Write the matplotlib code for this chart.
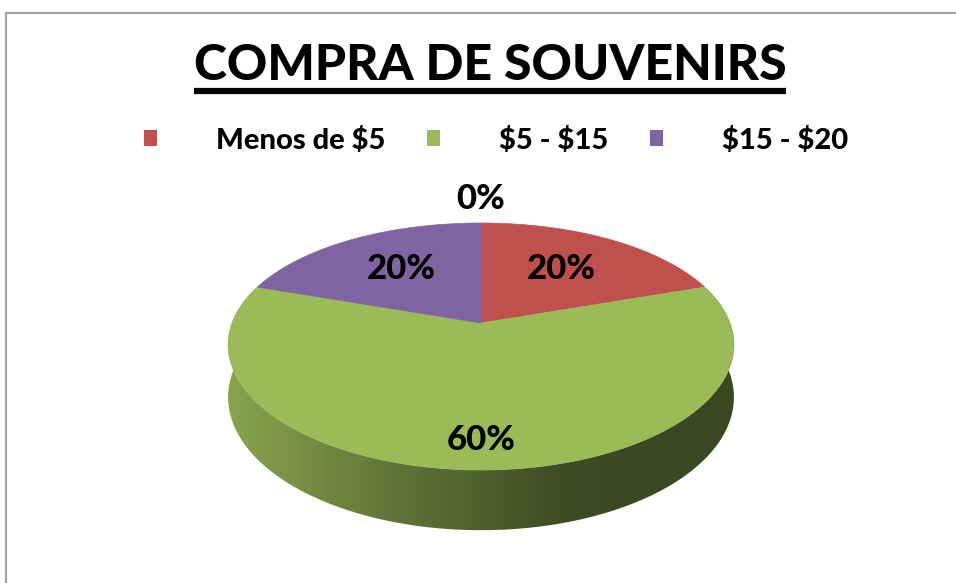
import numpy as np
import matplotlib.pyplot as plt
from matplotlib.patches import Polygon, Patch
from matplotlib.colors import to_rgb, LinearSegmentedColormap

# Data
title = "COMPRA DE SOUVENIRS"
categories = ["Menos de \\$5", "\\$5 - \\$15", "\\$15 - \\$20", ""]
values = [20, 60, 20, 0]
labels = ["20%", "60%", "20%", "0%"]
colors = ["#c0504d", "#9bbb59", "#8064a2", "#4bacc6"]

FONT = ["Lato", "DejaVu Sans"]
plt.rcParams['font.family'] = FONT

# 3D pie geometry (pixel units)
CX, CY = 481, 323
R = 249
PERSP = 0.18
A_Y, B_Y = 123.5, 23.5
DEPTH = 51


def project(theta, r=1.0, h=0.0):
    v = -np.sin(theta) * r
    x = CX + R * r * np.cos(theta) * (1 + PERSP * v)
    y = CY + A_Y * v + B_Y * v ** 2 + h * DEPTH * (1 + PERSP * v)
    return x, y


fig = plt.figure(figsize=(9.56, 5.83), dpi=100)
ax = fig.add_axes([0, 0, 1, 1])
ax.set_xlim(0, 956)
ax.set_ylim(583, 0)
ax.axis("off")

# chart border
ax.plot([6, 6, 960], [590, 13, 13], color="#a6a6a6", lw=1.6, solid_capstyle="butt")

# slice angles (start at 12 o'clock, clockwise)
fracs = np.array(values, dtype=float) / sum(values)
starts = np.pi / 2 - 2 * np.pi * np.concatenate([[0], np.cumsum(fracs)[:-1]])
ends = starts - 2 * np.pi * fracs

# side wall (front part belongs to the big slice) with a left-to-right shade
front = int(np.argmax(fracs))
th = np.linspace(np.pi - 0.3, 2 * np.pi + 0.3, 400)
xt, yt = project(th)
xb, yb = project(th, h=1.0)
side = Polygon(list(zip(xt, yt)) + list(zip(xb[::-1], yb[::-1])), closed=True,
               facecolor="none", edgecolor="none")
ax.add_patch(side)
base = np.array(to_rgb(colors[front]))
shade = LinearSegmentedColormap.from_list(
    "side", [base * 0.88, base * 0.62, base * 0.40, base * 0.38])
grad = np.linspace(0, 1, 256).reshape(1, -1)
im = ax.imshow(grad, cmap=shade, aspect="auto",
               extent=[xt.min(), xt.max(), yb.max() + 2, yt.min()], zorder=1)
im.set_clip_path(side)

# top faces
for i in range(len(values)):
    if fracs[i] == 0:
        continue
    a = np.linspace(starts[i], ends[i], 200)
    px, py = project(a)
    pts = [(CX, CY)] + list(zip(px, py))
    ax.add_patch(Polygon(pts, closed=True, facecolor=colors[i], edgecolor=colors[i],
                         lw=0.5, zorder=2))

# data labels
label_r = [0.6, 0.82, 0.6, 1.0]
for i in range(len(values)):
    mid = 0.5 * (starts[i] + ends[i])
    lx, ly = project(mid, r=label_r[i])
    if fracs[i] == 0:
        ly -= 24
    ax.text(lx, ly, labels[i], ha="center", va="center", fontsize=25,
            fontweight="black", color="black", zorder=3)

# title with underline
ttl = fig.text(490 / 956, 1 - 66 / 583, title, ha="center", va="center",
               fontsize=36, fontweight="black", color="black")

# legend
handles = [Patch(facecolor=colors[i], edgecolor="none", label=categories[i])
           for i in range(3)]
fig.legend(handles=handles, ncol=3, loc="center", bbox_to_anchor=(496 / 956, 1 - 140 / 583),
           frameon=False, prop={"size": 21, "weight": "black"},
           handlelength=0.45, handleheight=0.5, handletextpad=2.0, columnspacing=1.45)

fig.canvas.draw()
bb = ttl.get_window_extent()
uy = 583 - (bb.y0 - 2)
ax.plot([bb.x0, bb.x1], [uy, uy], color="black", lw=4.5, solid_capstyle="butt")

fig.savefig("out.png", dpi=100)
